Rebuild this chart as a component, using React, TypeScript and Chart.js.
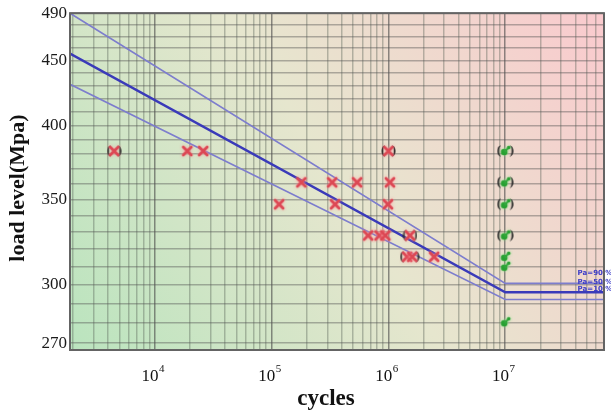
import React, { useEffect, useRef } from 'react';
import { Chart, registerables } from 'chart.js';

Chart.register(...registerables);

// S-N curves (cycles vs load level, MPa)
const curveCycles = [1885, 1e7, 7e7];
const curvePa90 = [490, 300.8, 300.8];
const curvePa50 = [455.6, 296, 296];
const curvePa10 = [431, 292.2, 292.2];
const curveNames = ['Pa=90 %', 'Pa=50 %', 'Pa=10 %'];
const curveLabelCycles = 4e7;

// failed specimens (red crosses)
const failCycles = [4.5e3, 1.9e4, 2.6e4, 1.16e5, 1.8e5, 3.3e5, 3.5e5, 5.4e5, 6.7e5, 8.4e5, 9.4e5, 9.9e5, 1.0e6, 1.03e6, 1.45e6, 1.53e6, 1.6e6, 2.46e6];
const failLoad = [382, 382, 382, 347, 361, 361, 347, 361, 328, 328, 328, 347, 382, 361, 315.6, 328, 315.6, 315.6];

// run-outs (green symbols)
const runoutCycles = [1e7, 1e7, 1e7, 1e7, 1e7, 1e7, 1e7];
const runoutLoad = [382, 361, 347, 328, 315.6, 310, 280.4];

// bracketed points
const bracketCycles = [4.5e3, 1.0e6, 1.53e6, 1.52e6, 1e7, 1e7, 1e7, 1e7];
const bracketLoad = [382, 382, 328, 315.6, 382, 361, 347, 328];
const bracketKind = ['red', 'red', 'red', 'wide', 'green', 'green', 'green', 'green'];

// axes
const xMin = 1885;
const xMax = 7e7;
const yMin = 266.7;
const yMax = 490;
const xGridValues = [2e3, 3e3, 4e3, 5e3, 6e3, 7e3, 8e3, 9e3, 1e4, 2e4, 3e4, 4e4, 5e4, 6e4, 7e4, 8e4, 9e4, 1e5, 2e5, 3e5, 4e5, 5e5, 6e5, 7e5, 8e5, 9e5, 1e6, 2e6, 3e6, 4e6, 5e6, 6e6, 7e6, 8e6, 9e6, 1e7, 2e7, 3e7, 4e7, 5e7, 6e7, 7e7];
const xLabelExponents = [4, 5, 6, 7];
const yGridValues = [270, 280, 290, 300, 310, 320, 330, 340, 350, 360, 370, 380, 390, 400, 410, 420, 430, 440, 450, 460, 470, 480, 490];
const yLabelValues = [270, 300, 350, 400, 450, 490];

const xTitle = 'cycles';
const yTitle = 'load level(Mpa)';

const SERIF = '"Liberation Serif", "Times New Roman", serif';

function makeCross(): HTMLCanvasElement {
  const c = document.createElement('canvas');
  c.width = 16; c.height = 16;
  const g = c.getContext('2d')!;
  g.shadowColor = 'rgba(255,140,150,0.9)';
  g.shadowBlur = 3;
  g.strokeStyle = 'rgb(220,72,84)';
  g.lineWidth = 2.8;
  g.lineCap = 'round';
  g.beginPath();
  g.moveTo(4, 4); g.lineTo(12, 12);
  g.moveTo(12, 4); g.lineTo(4, 12);
  g.stroke();
  return c;
}

function makeRunout(): HTMLCanvasElement {
  const c = document.createElement('canvas');
  c.width = 16; c.height = 16;
  const g = c.getContext('2d')!;
  g.shadowColor = 'rgba(140,230,140,0.9)';
  g.shadowBlur = 3;
  g.fillStyle = 'rgb(40,160,50)';
  g.strokeStyle = 'rgb(40,160,50)';
  g.beginPath(); g.arc(7, 9, 3.3, 0, Math.PI * 2); g.fill();
  g.lineWidth = 2;
  g.beginPath(); g.moveTo(8.5, 7.5); g.lineTo(11, 5); g.stroke();
  g.beginPath(); g.arc(11.5, 4.5, 1.8, 0, Math.PI * 2); g.fill();
  return c;
}

function makeBracket(width: number): HTMLCanvasElement {
  const c = document.createElement('canvas');
  c.width = width; c.height = 18;
  const g = c.getContext('2d')!;
  g.fillStyle = 'rgb(40,40,40)';
  g.font = `bold 13px ${SERIF}`;
  g.textBaseline = 'middle';
  g.textAlign = 'left';
  g.fillText('(', 0, 9);
  g.textAlign = 'right';
  g.fillText(')', width, 9);
  return c;
}

const isDecade = (v: number) => Math.abs(Math.log10(v) - Math.round(Math.log10(v))) < 1e-6;

const decorPlugin = {
  id: 'decor',
  beforeDraw(chart: any) {
    const { ctx, chartArea: a } = chart;
    const g = ctx.createLinearGradient(a.left, a.bottom, a.right, a.top);
    g.addColorStop(0, 'rgb(186,228,190)');
    g.addColorStop(0.5, 'rgb(230,230,206)');
    g.addColorStop(1, 'rgb(250,202,206)');
    ctx.save();
    ctx.fillStyle = g;
    ctx.fillRect(a.left, a.top, a.right - a.left, a.bottom - a.top);
    ctx.restore();
  },
  afterDraw(chart: any) {
    const { ctx, chartArea: a, scales } = chart;
    const xs = scales.x;
    const ys = scales.y;
    ctx.save();
    // frame
    ctx.strokeStyle = 'rgb(100,100,100)';
    ctx.lineWidth = 2;
    ctx.strokeRect(a.left, a.top, a.right - a.left, a.bottom - a.top);

    // curve labels
    ctx.fillStyle = 'rgb(60,60,200)';
    ctx.font = 'bold 7px "DejaVu Sans", sans-serif';
    ctx.textAlign = 'left';
    ctx.textBaseline = 'middle';
    const levels = [curvePa90, curvePa50, curvePa10];
    levels.forEach((arr, i) => {
      const px = xs.getPixelForValue(curveLabelCycles);
      const py = ys.getPixelForValue(arr[arr.length - 1]);
      ctx.fillText(curveNames[i], px + 2, py - 10);
    });

    // x tick labels with superscripts
    ctx.fillStyle = '#111';
    ctx.textBaseline = 'alphabetic';
    xLabelExponents.forEach((e) => {
      const px = xs.getPixelForValue(Math.pow(10, e));
      ctx.font = `17px ${SERIF}`;
      const w1 = ctx.measureText('10').width;
      ctx.font = `11px ${SERIF}`;
      const w2 = ctx.measureText(String(e)).width;
      const start = px - (w1 + w2) / 2 - 2;
      ctx.font = `17px ${SERIF}`;
      ctx.textAlign = 'left';
      ctx.fillText('10', start, 381);
      ctx.font = `11px ${SERIF}`;
      ctx.fillText(String(e), start + w1 + 0.5, 372);
    });

    // axis titles
    ctx.font = `bold 23px ${SERIF}`;
    ctx.textAlign = 'center';
    ctx.textBaseline = 'middle';
    ctx.fillText(xTitle, 326, 399);
    ctx.translate(18, 188);
    ctx.rotate(-Math.PI / 2);
    ctx.font = `bold 22px ${SERIF}`;
    ctx.fillText(yTitle, 0, 0);
    ctx.restore();
  },
};

export default function App() {
  const ref = useRef<HTMLCanvasElement | null>(null);

  useEffect(() => {
    document.body.style.margin = '0';
    const cross = makeCross();
    const runout = makeRunout();
    const brRed = makeBracket(15);
    const brWide = makeBracket(20);
    const brGreen = makeBracket(17);
    const bracketStyles = bracketKind.map((k) => (k === 'red' ? brRed : k === 'wide' ? brWide : brGreen));

    const toPts = (xs: number[], ys: number[]) => xs.map((x, i) => ({ x, y: ys[i] }));

    const chart = new Chart(ref.current!, {
      type: 'scatter',
      data: {
        datasets: [
          {
            label: 'failed',
            data: toPts(failCycles, failLoad),
            pointStyle: cross as any,
            pointRadius: 6,
            showLine: false,
          },
          {
            label: 'run-out',
            data: toPts(runoutCycles, runoutLoad),
            pointStyle: runout as any,
            pointRadius: 6,
            showLine: false,
          },
          {
            label: 'bracketed',
            data: toPts(bracketCycles, bracketLoad),
            pointStyle: bracketStyles as any,
            pointRadius: 6,
            showLine: false,
          },
          {
            label: curveNames[1],
            data: toPts(curveCycles, curvePa50),
            showLine: true,
            borderColor: 'rgb(58,58,185)',
            borderWidth: 2.5,
            pointRadius: 0,
          },
          {
            label: curveNames[0],
            data: toPts(curveCycles, curvePa90),
            showLine: true,
            borderColor: 'rgb(125,125,205)',
            borderWidth: 1.6,
            pointRadius: 0,
          },
          {
            label: curveNames[2],
            data: toPts(curveCycles, curvePa10),
            showLine: true,
            borderColor: 'rgb(125,125,205)',
            borderWidth: 1.6,
            pointRadius: 0,
          },
        ],
      },
      options: {
        animation: false,
        responsive: false,
        maintainAspectRatio: false,
        layout: { padding: { left: 0, top: 10, right: 5, bottom: 0 } },
        plugins: { legend: { display: false }, tooltip: { enabled: false } },
        scales: {
          x: {
            type: 'logarithmic',
            min: xMin,
            max: xMax,
            afterBuildTicks: (s: any) => {
              s.ticks = xGridValues.map((v) => ({ value: v, major: isDecade(v) }));
            },
            afterFit: (s: any) => {
              s.height = 66;
            },
            ticks: { autoSkip: false, maxRotation: 0, callback: () => '', font: { size: 1 } },
            grid: {
              drawTicks: false,
              lineWidth: 1.5,
              color: (c: any) => (c.tick && isDecade(c.tick.value) ? 'rgba(70,70,70,0.6)' : 'rgba(85,95,85,0.38)'),
            },
            border: { display: false },
          },
          y: {
            type: 'logarithmic',
            min: yMin,
            max: yMax,
            afterBuildTicks: (s: any) => {
              s.ticks = yGridValues.map((v) => ({ value: v }));
            },
            afterFit: (s: any) => {
              s.width = 70;
            },
            ticks: {
              autoSkip: false,
              padding: 3,
              color: '#1a1a1a',
              font: { family: SERIF, size: 17 },
              callback: (v: any) => (yLabelValues.includes(Number(v)) ? String(v) : ''),
            },
            grid: {
              drawTicks: false,
              lineWidth: 1.5,
              color: 'rgba(80,80,80,0.42)',
            },
            border: { display: false },
          },
        },
      },
      plugins: [decorPlugin],
    });
    return () => chart.destroy();
  }, []);

  return (
    <canvas
      ref={ref}
      width={611}
      height={416}
      style={{ position: 'fixed', left: 0, top: 0, width: 611, height: 416, display: 'block' }}
    />
  );
}
